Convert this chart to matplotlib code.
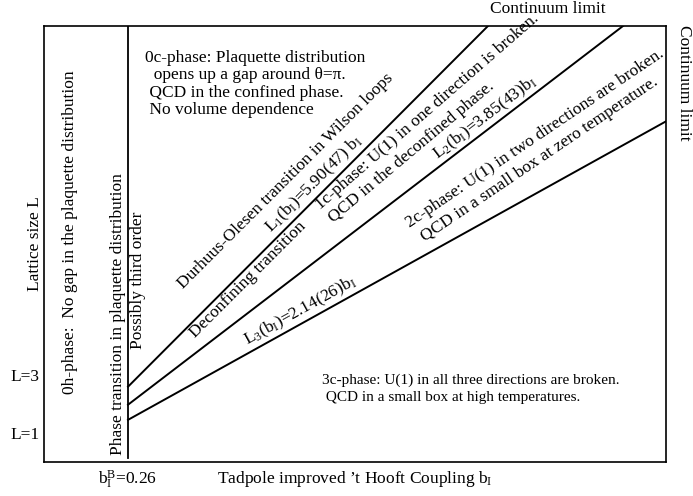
import math

import matplotlib
matplotlib.use("Agg")
import matplotlib.pyplot as plt

plt.rcParams["font.family"] = ["Liberation Serif", "DejaVu Serif"]
plt.rcParams["mathtext.fontset"] = "custom"
plt.rcParams["mathtext.rm"] = "Liberation Serif"
plt.rcParams["mathtext.it"] = "Liberation Serif:italic"

# schematic phase diagram: coupling b_I on x, lattice size L on y
b_lim = [0.0, 1.925]
L_lim = [0.0, 15.0]
b_bulk = 0.26          # b_I^B, bulk transition
bulk_L_bottom = 0.14

L_ticks = [1, 3]
L_ticklabels = ["L=1", "L=3"]

# transition lines: start on the bulk line, end on the frame
line_L_start = [2.59, 1.97, 1.45]
line_b_end = [1.374, 1.792, 1.925]
line_L_end = [15.0, 15.0, 11.72]
line_labels = [
    r"$\mathrm{L_1(b_I)}$=5.90(47) $\mathrm{b_I}$",
    r"$\mathrm{L_2(b_I)}$=3.85(43)$\mathrm{b_I}$",
    r"$\mathrm{L_3(b_I)}$=2.14(26)$\mathrm{b_I}$",
]
line_label_b = [0.86, 1.385, 0.81]
line_label_off = [8, 8, 8]   # points above the line

fig = plt.figure(figsize=(6.93, 4.96), dpi=100)
ax = fig.add_axes([44 / 693, 34 / 496, 622 / 693, 436 / 496])
ax.set_xlim(b_lim)
ax.set_ylim(L_lim)

for s in ax.spines.values():
    s.set_linewidth(1.2)

ax.set_xticks([b_bulk], [r"$\mathrm{b_I^B}$=0.26"])
ax.set_yticks(L_ticks, L_ticklabels)
ax.tick_params(length=0, labelsize=12.5, pad=3)
ax.tick_params(axis="x", pad=5)
ax.set_xlabel(r"Tadpole improved ’t Hooft Coupling $\mathrm{b_I}$", fontsize=12.5)
ax.xaxis.set_label_coords(0.5, -0.015)
ax.set_ylabel("Lattice size L", fontsize=12.5)
ax.yaxis.set_label_coords(-0.001, 0.5)

# bulk transition
ax.plot([b_bulk, b_bulk], [bulk_L_bottom, L_lim[1]], color="black", lw=1.3)

for L0, b1, L1, lab, bl, off in zip(line_L_start, line_b_end, line_L_end,
                                    line_labels, line_label_b, line_label_off):
    ax.plot([b_bulk, b1], [L0, L1], color="black", lw=1.4)
    p0 = ax.transData.transform((b_bulk, L0))
    p1 = ax.transData.transform((b1, L1))
    ang = math.atan2(p1[1] - p0[1], p1[0] - p0[0])
    Lc = L0 + (bl - b_bulk) * (L1 - L0) / (b1 - b_bulk)
    ax.annotate(lab, (bl, Lc), xytext=(-off * math.sin(ang), off * math.cos(ang)),
                textcoords="offset points", rotation=math.degrees(ang),
                rotation_mode="anchor", ha="center", va="center", fontsize=12.5)

fs = 12.5
ax.text(0.080, 7.91, "0h-phase:  No gap in the plaquette distribution",
        rotation=90, ha="center", va="center", fontsize=fs)
ax.text(0.229, 5.09, "Phase transition in plaquette distribution",
        rotation=90, ha="center", va="center", fontsize=fs)
ax.text(0.291, 6.26, "Possibly third order",
        rotation=90, ha="center", va="center", fontsize=fs)

ax.text(0.313, 14.17, "0c-phase: Plaquette distribution\n"
        "  opens up a gap around θ=π.\n"
        " QCD in the confined phase.\n"
        " No volume dependence",
        ha="left", va="top", fontsize=fs, linespacing=1.1)

ax.text(0.749, 9.67, "Durhuus-Olesen transition in Wilson loops",
        rotation=45, rotation_mode="anchor", ha="center", va="center", fontsize=fs)
ax.text(0.631, 6.26, "Deconfining transition",
        rotation=45, rotation_mode="anchor", ha="center", va="center", fontsize=fs)
ax.text(1.185, 12.04, "1c-phase: U(1) in one direction is broken.",
        rotation=41, rotation_mode="anchor", ha="center", va="center", fontsize=fs)
ax.text(1.139, 10.66, "QCD in the deconfined phase.",
        rotation=40, rotation_mode="anchor", ha="center", va="center", fontsize=fs)
ax.text(1.520, 11.15, "2c-phase: U(1) in two directions are broken.",
        rotation=34, rotation_mode="anchor", ha="center", va="center", fontsize=fs)
ax.text(1.535, 10.42, "QCD in a small box at zero temperature.",
        rotation=34, rotation_mode="anchor", ha="center", va="center", fontsize=fs)

ax.text(0.861, 3.05, "3c-phase: U(1) in all three directions are broken.\n"
        " QCD in a small box at high temperatures.",
        ha="left", va="top", fontsize=11, linespacing=1.4)

ax.text(1.56, 15.58, "Continuum limit", ha="center", va="center", fontsize=fs)
ax.text(1.981, 13.04, "Continuum limit", rotation=-90, ha="center", va="center",
        fontsize=fs)

fig.savefig("out.png", dpi=100)
